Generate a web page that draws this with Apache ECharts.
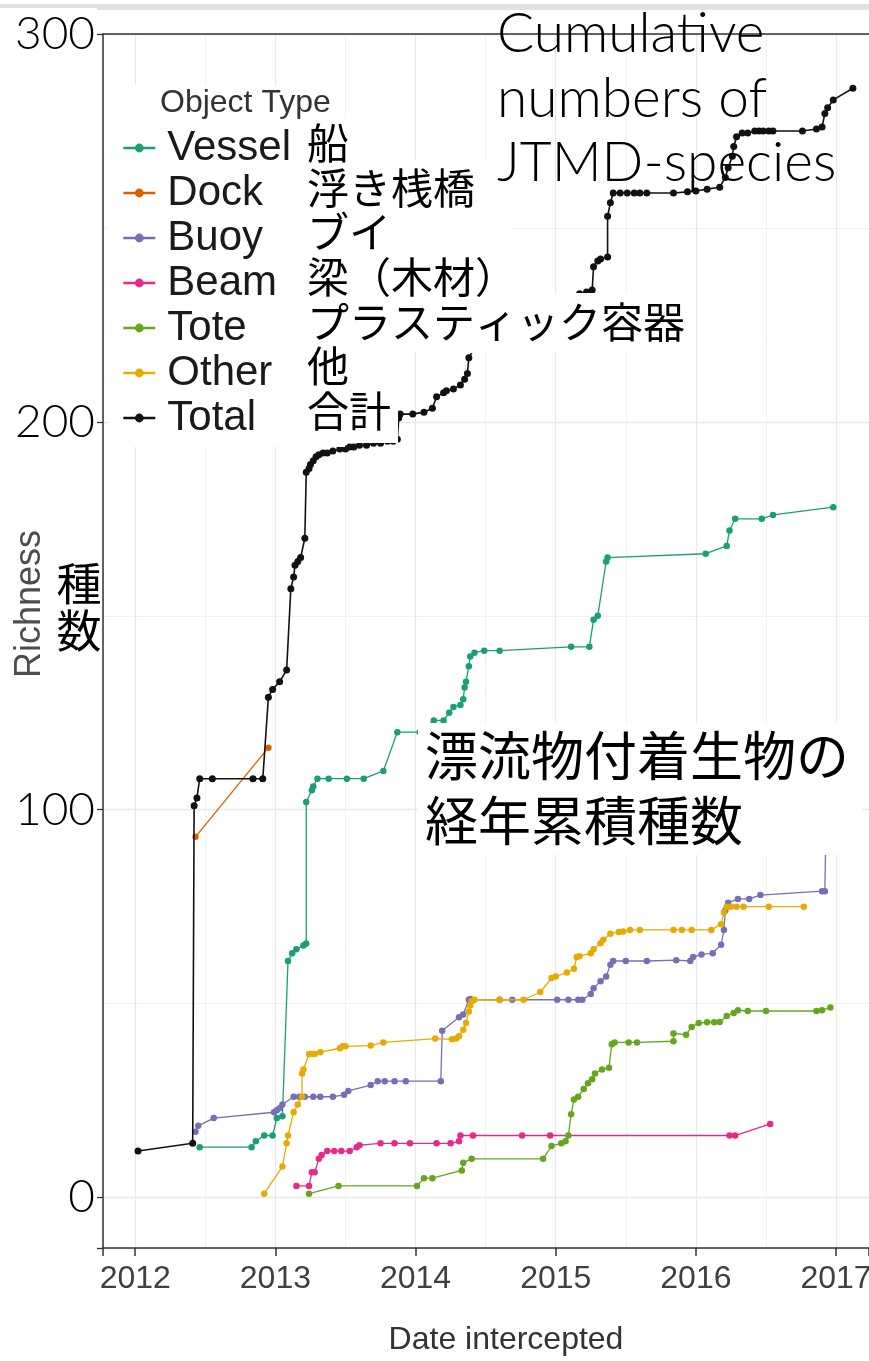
<!DOCTYPE html>
<html><head><meta charset="utf-8">
<script src="https://cdn.jsdelivr.net/npm/echarts@6/dist/echarts.min.js"></script>
<style>html,body{margin:0;padding:0;background:#fff;overflow:hidden}#chart{width:869px;height:1361px}</style>
</head><body><div id="chart"></div>
<script>
// ---------- data (year as decimal, cumulative richness) ----------
const seriesNames = ['Vessel','Dock','Buoy','Beam','Tote','Other','Total'];
const jpNames = ['船','浮き桟橋','ブイ','梁（木材）','プラスティック容器','他','合計'];
const legendTitle = 'Object Type';
const xAxisTitle = 'Date intercepted';
const yAxisTitle = 'Richness';
const yAxisTitleJp = '種\n数';
const titleEn = 'Cumulative\nnumbers of\nJTMD-species';
const titleJp = '漂流物付着生物の\n経年累積種数';

const vesselData = [[2012.46,13],[2012.83,13],[2012.86,14.5],[2012.92,16],[2012.98,16],[2013.01,20.5],[2013.05,21],[2013.09,61],[2013.12,63],[2013.15,64],[2013.2,65],[2013.22,65.5],[2013.22,102],[2013.26,105],[2013.27,106],[2013.3,108],[2013.38,108],[2013.51,108],[2013.63,108],[2013.77,110],[2013.87,120],[2014.03,120],[2014.13,123],[2014.2,123],[2014.24,125],[2014.27,126.5],[2014.32,127],[2014.34,128.5],[2014.35,131.5],[2014.36,133],[2014.38,137],[2014.39,139.5],[2014.42,140.5],[2014.49,141],[2014.6,141],[2015.11,142],[2015.24,142],[2015.27,149],[2015.3,150],[2015.36,164],[2015.37,165],[2016.07,166],[2016.22,168],[2016.24,172],[2016.28,175],[2016.47,175],[2016.55,176],[2016.98,178]];
const dockData = [[2012.43,93],[2012.95,116]];
const buoyData = [[2012.43,17],[2012.45,18.5],[2012.56,20.5],[2012.99,22],[2013.01,22.5],[2013.03,23],[2013.05,24],[2013.13,26],[2013.17,26],[2013.21,26],[2013.27,26],[2013.32,26],[2013.41,26],[2013.49,26.5],[2013.52,27.5],[2013.68,29],[2013.73,30],[2013.78,30],[2013.85,30],[2013.93,30],[2014.18,30],[2014.19,43],[2014.31,46.5],[2014.34,47.2],[2014.38,51],[2014.39,51.2],[2014.6,51],[2014.69,51],[2015.01,51],[2015.09,51],[2015.16,51],[2015.19,51],[2015.25,52.5],[2015.27,54],[2015.32,55.8],[2015.36,57],[2015.39,60],[2015.41,61],[2015.5,61],[2015.65,61],[2015.86,61.2],[2015.96,61],[2015.98,62],[2016.04,62.7],[2016.12,63],[2016.18,65.2],[2016.2,69],[2016.21,74],[2016.23,76],[2016.3,77],[2016.38,77],[2016.46,78],[2016.9,79],[2016.92,79],[2016.93,100]];
const beamData = [[2013.15,3],[2013.24,3],[2013.26,6.5],[2013.28,6.5],[2013.31,10],[2013.33,11],[2013.37,12],[2013.42,12],[2013.47,12],[2013.53,12],[2013.58,13],[2013.6,13.5],[2013.75,14],[2013.85,14],[2013.96,14],[2014.15,14],[2014.25,14],[2014.31,14.5],[2014.32,16],[2014.41,16],[2014.76,16],[2014.96,16],[2016.24,16],[2016.28,16],[2016.53,19]];
const toteData = [[2013.24,1],[2013.45,3],[2014.01,3],[2014.06,5],[2014.12,5],[2014.33,7],[2014.34,9],[2014.4,10],[2014.91,10],[2014.97,13.3],[2015.04,14],[2015.07,14.5],[2015.09,16],[2015.11,21.5],[2015.13,25.3],[2015.16,26],[2015.2,28],[2015.23,29.5],[2015.26,30.5],[2015.28,32],[2015.33,33],[2015.38,33.5],[2015.4,39.5],[2015.42,40],[2015.52,40],[2015.58,40],[2015.84,40.3],[2015.84,42.3],[2015.93,42],[2015.97,44],[2016.02,45],[2016.08,45.2],[2016.13,45.2],[2016.17,45.3],[2016.22,46.8],[2016.27,47.6],[2016.3,48.3],[2016.37,48.1],[2016.5,48.1],[2016.86,48.1],[2016.9,48.3],[2016.96,49]];
const otherData = [[2012.92,1],[2013.05,8],[2013.08,14],[2013.09,16],[2013.13,22],[2013.16,24],[2013.19,26],[2013.19,32],[2013.2,33],[2013.24,37],[2013.26,37],[2013.28,37],[2013.32,37.5],[2013.46,38.5],[2013.48,39],[2013.5,39],[2013.68,39.2],[2013.77,40],[2014.14,41],[2014.26,40.8],[2014.29,41],[2014.31,41.6],[2014.34,43.3],[2014.36,45],[2014.38,48],[2014.39,49.5],[2014.4,50.6],[2014.42,51],[2014.6,51],[2014.77,51],[2014.89,53],[2014.97,56.6],[2015.0,57],[2015.08,58],[2015.13,59],[2015.15,62],[2015.17,62.2],[2015.25,63],[2015.27,64],[2015.32,65.6],[2015.34,66.5],[2015.39,68],[2015.45,68.5],[2015.48,68.6],[2015.53,69],[2015.6,69],[2015.84,69],[2015.9,69],[2015.97,69],[2016.11,69],[2016.18,70.5],[2016.2,73.5],[2016.22,75],[2016.25,75],[2016.29,75],[2016.34,75],[2016.52,75],[2016.77,75]];
const totalData = [[2012.02,12],[2012.41,14],[2012.42,101],[2012.44,103],[2012.46,108],[2012.55,108],[2012.84,108],[2012.91,108],[2012.95,129],[2012.98,131],[2013.03,133],[2013.08,136],[2013.11,157],[2013.13,160],[2013.14,163],[2013.16,164],[2013.18,165],[2013.21,170],[2013.22,187],[2013.24,188],[2013.25,189],[2013.27,190],[2013.29,191],[2013.31,191.5],[2013.34,192],[2013.37,192],[2013.41,192.5],[2013.46,193],[2013.5,193],[2013.53,193.5],[2013.56,193.5],[2013.6,194],[2013.65,194],[2013.7,194.5],[2013.75,194.5],[2013.8,195],[2013.84,195],[2013.87,195.5],[2013.88,201],[2013.89,202],[2013.98,202],[2014.06,202.5],[2014.12,203.5],[2014.15,206.5],[2014.2,207.5],[2014.22,208],[2014.27,208.5],[2014.32,209.5],[2014.35,211],[2014.37,212.5],[2014.38,216.5],[2014.42,219],[2014.6,222],[2014.77,224],[2015.0,228],[2015.1,231],[2015.17,233],[2015.22,233.5],[2015.26,234],[2015.27,240],[2015.3,241.5],[2015.32,242],[2015.37,242.5],[2015.37,253],[2015.39,256.5],[2015.41,259],[2015.46,259],[2015.51,259],[2015.56,259],[2015.6,259],[2015.65,259],[2015.84,259],[2015.94,259.3],[2016.0,259.5],[2016.08,260],[2016.17,260.5],[2016.21,263],[2016.23,265.5],[2016.26,268.5],[2016.27,271],[2016.29,273.5],[2016.33,274.5],[2016.37,274.5],[2016.42,275],[2016.45,275],[2016.48,275],[2016.52,275],[2016.55,275],[2016.76,275],[2016.86,275.5],[2016.9,276],[2016.92,279.5],[2016.94,281],[2016.98,283],[2017.12,286]];

// ---------- styles ----------
const colors = {Vessel:'#1b9e77',Dock:'#d95f02',Buoy:'#7570b3',Beam:'#e7298a',Tote:'#66a61e',Other:'#e6ab02',Total:'#111111'};
const FONT = '"Liberation Sans", Arial, sans-serif';
const JP = '"Noto Sans CJK JP", sans-serif';
const GEO = '"Lato Light", Lato, "Liberation Sans", sans-serif';

const dataByName = {Vessel:vesselData,Dock:dockData,Buoy:buoyData,Beam:beamData,Tote:toteData,Other:otherData,Total:totalData};

const series = seriesNames.map((n,i) => ({
  type:'line', name:n, data:dataByName[n],
  symbol:'circle', symbolSize: n==='Total'?7:6.5, showSymbol:true,
  itemStyle:{color:colors[n]},
  lineStyle:{color:colors[n], width: n==='Total'?1.6:1.3},
  z: n==='Total'?10:3+i, emphasis:{disabled:true}, animation:false
}));

const box = (x,y,w,h) => ({type:'rect', z:100, silent:true, shape:{x,y,width:w,height:h}, style:{fill:'#ffffff'}});

const chart = echarts.init(document.getElementById('chart'));
chart.setOption({
  animation:false,
  backgroundColor:'#ffffff',
  grid:{left:103,right:0,top:34,bottom:113,containLabel:false,outerBoundsMode:'none'},
  xAxis:[{
    type:'value', min:2011.77, max:2017.235,
    axisLine:{show:true,onZero:false,lineStyle:{color:'#333',width:1.5}},
    axisTick:{show:true,length:8,lineStyle:{color:'#333',width:1.5}},
    axisLabel:{formatter:v=>Number.isInteger(v)?String(v):'', fontSize:32, color:'#404040', margin:15, fontFamily:FONT, hideOverlap:false},
    splitLine:{show:true,lineStyle:{color:'#e8e8e8',width:1.3}},
    minorTick:{show:false,splitNumber:2},
    minorSplitLine:{show:true,lineStyle:{color:'#f1f1f1',width:1}},
    name:xAxisTitle, nameLocation:'middle', nameGap:76,
    nameTextStyle:{fontSize:32,color:'#333',fontFamily:FONT,padding:[0,0,0,40]}
  },{
    type:'value', position:'top', min:2011.77, max:2017.235,
    axisLine:{show:true,onZero:false,lineStyle:{color:'#333',width:1.5}},
    axisTick:{show:false}, axisLabel:{show:false}, splitLine:{show:false}
  }],
  yAxis:{
    type:'value', min:-13, max:300, splitNumber:3,
    axisLine:{show:true,onZero:false,lineStyle:{color:'#333',width:1.5}},
    axisTick:{show:true,length:6,lineStyle:{color:'#333',width:1.3}},
    axisLabel:{formatter:v=>(v%100===0?String(v):''), fontSize:46, color:'#000', margin:8, fontFamily:GEO},
    splitLine:{show:true,lineStyle:{color:'#e8e8e8',width:1.3}},
    minorTick:{show:false,splitNumber:2},
    minorSplitLine:{show:true,lineStyle:{color:'#f1f1f1',width:1}}
  },
  legend:{
    orient:'vertical', left:122, top:127, padding:0, itemWidth:32, itemHeight:11, itemGap:3,
    data:seriesNames, selectedMode:false, z:200,
    lineStyle:{width:2.6},
    textStyle:{fontSize:42, lineHeight:40, color:'#1a1a1a', fontFamily:FONT, padding:[0,0,0,7]}
  },
  series,
  graphic:[
    {type:'rect', z:100, silent:true, shape:{x:0,y:4,width:869,height:6}, style:{fill:'#e2e2e2'}},
    box(0,8,97,9),
    box(108,85,237,362),
    box(300,118,50,42),
    box(300,160,210,135),
    box(300,293,392,60),
    box(300,353,98,90),
    box(418,723,444,132),
    {type:'text', z:150, silent:true, x:160, y:103, style:{text:legendTitle, fontSize:32, fill:'#333', fontFamily:FONT, verticalAlign:'middle', align:'left'}},
    {type:'text', z:150, silent:true, x:307, y:277, style:{text:jpNames.join('\n'), fontSize:42, lineHeight:44.6, fill:'#000', fontFamily:JP, verticalAlign:'middle', align:'left'}},
    {type:'text', z:150, silent:true, x:497, y:99, style:{text:titleEn, fontSize:55, lineHeight:64.5, fill:'#000', fontFamily:GEO, fontWeight:300, verticalAlign:'middle', align:'left'}},
    {type:'text', z:150, silent:true, x:425, y:788, style:{text:titleJp, fontSize:53, lineHeight:65, fill:'#000', fontFamily:JP, verticalAlign:'middle', align:'left'}},
    {type:'text', z:150, silent:true, x:79, y:607, style:{text:yAxisTitleJp, fontSize:45, lineHeight:47, fill:'#000', fontFamily:JP, verticalAlign:'middle', align:'center'}},
    {type:'text', z:150, silent:true, x:30, y:604, rotation:Math.PI/2, style:{text:yAxisTitle, fontSize:36, fill:'#4d4d4d', fontFamily:FONT, verticalAlign:'middle', align:'center'}}
  ]
});
</script></body></html>
